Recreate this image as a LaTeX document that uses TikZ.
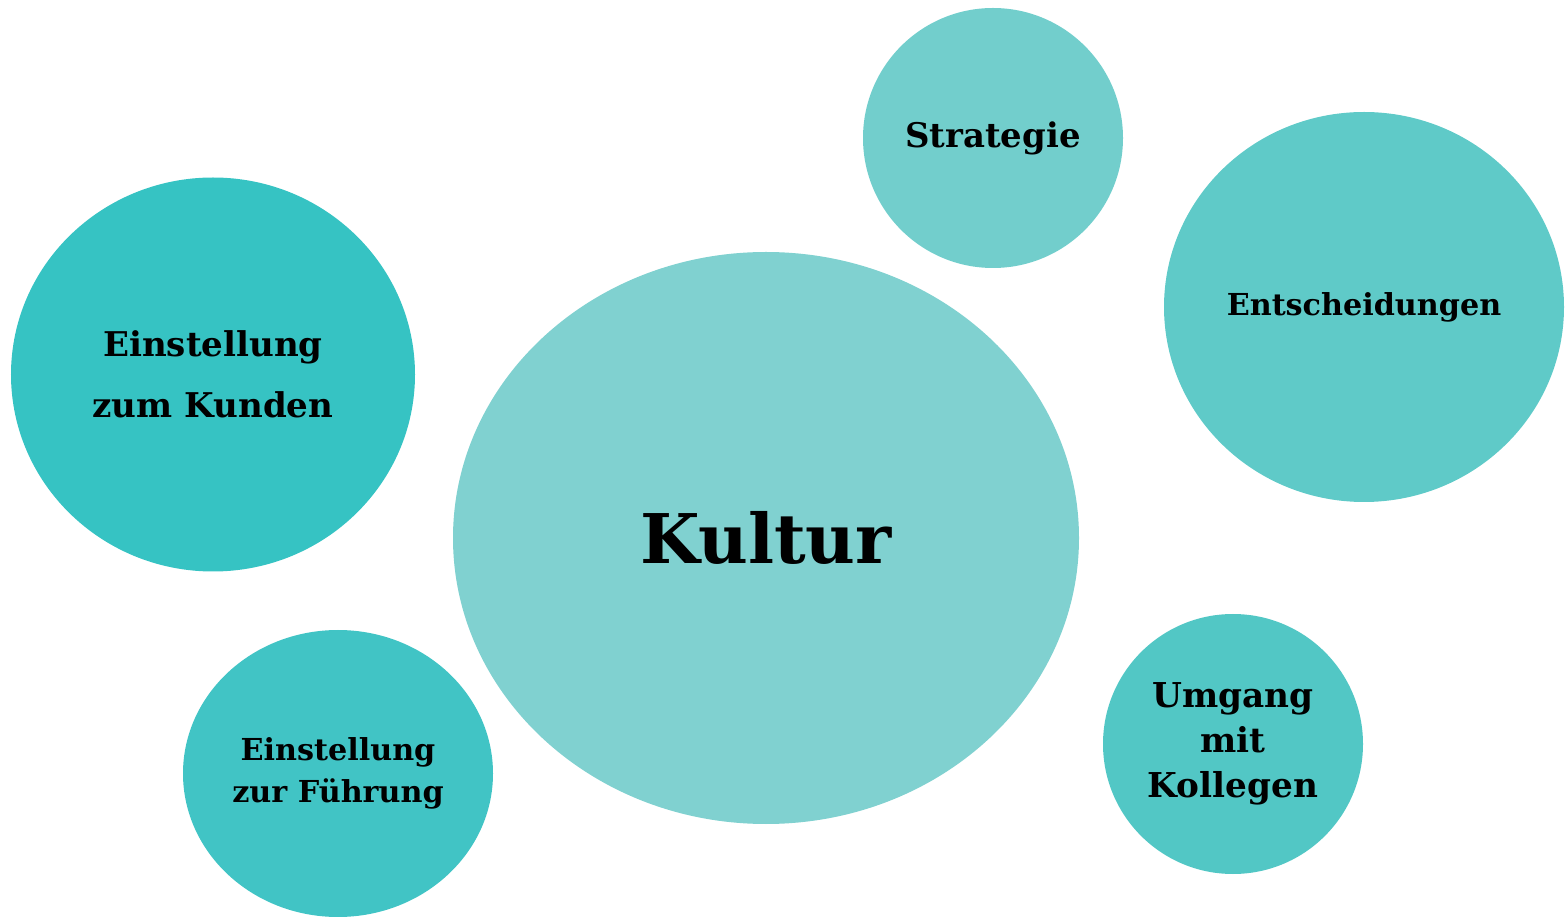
\documentclass[tikz,border=0pt]{standalone}
\usepackage{fontspec}
\setmainfont{DejaVu Serif}
\usetikzlibrary{shapes.geometric}

\definecolor{tealA}{HTML}{80D1D0}
\definecolor{tealB}{HTML}{72CECC}
\definecolor{tealC}{HTML}{5FCAC8}
\definecolor{tealD}{HTML}{36C3C3}
\definecolor{tealE}{HTML}{41C4C5}
\definecolor{tealF}{HTML}{52C7C5}

\tikzset{bubble/.style={ellipse, inner sep=0pt, align=center, font=\bfseries}}

\begin{document}
\begin{tikzpicture}
\useasboundingbox (0,0) rectangle (31.34,-18.34);
\path (15.32,-10.76) node (kultur) [bubble, fill=tealA, minimum width=12.52cm, minimum height=11.44cm, font=\bfseries\fontsize{39}{46}\selectfont] {Kultur};
\path (19.86,-2.76) node (strategie) [bubble, fill=tealB, minimum width=5.2cm, minimum height=5.2cm, font=\bfseries\fontsize{19.3}{24}\selectfont] {Strategie};
\path (27.28,-6.14) node (entscheidungen) [bubble, fill=tealC, minimum width=8.0cm, minimum height=7.8cm, font=\bfseries\fontsize{17.2}{22}\selectfont] {Entscheidungen};
\path (4.26,-7.49) node (kunden) [bubble, fill=tealD, minimum width=8.08cm, minimum height=7.88cm, font=\bfseries\fontsize{19.4}{35}\selectfont] {Einstellung\\zum Kunden};
\path (6.76,-15.47) node (fuehrung) [bubble, fill=tealE, minimum width=6.2cm, minimum height=5.74cm, font=\bfseries\fontsize{17.2}{24}\selectfont] {Einstellung\\zur Führung};
\path (24.66,-14.88) node (umgang) [bubble, fill=tealF, minimum width=5.2cm, minimum height=5.2cm, font=\bfseries\fontsize{19.5}{25.5}\selectfont] {Umgang\\mit\\Kollegen};
\end{tikzpicture}
\end{document}
